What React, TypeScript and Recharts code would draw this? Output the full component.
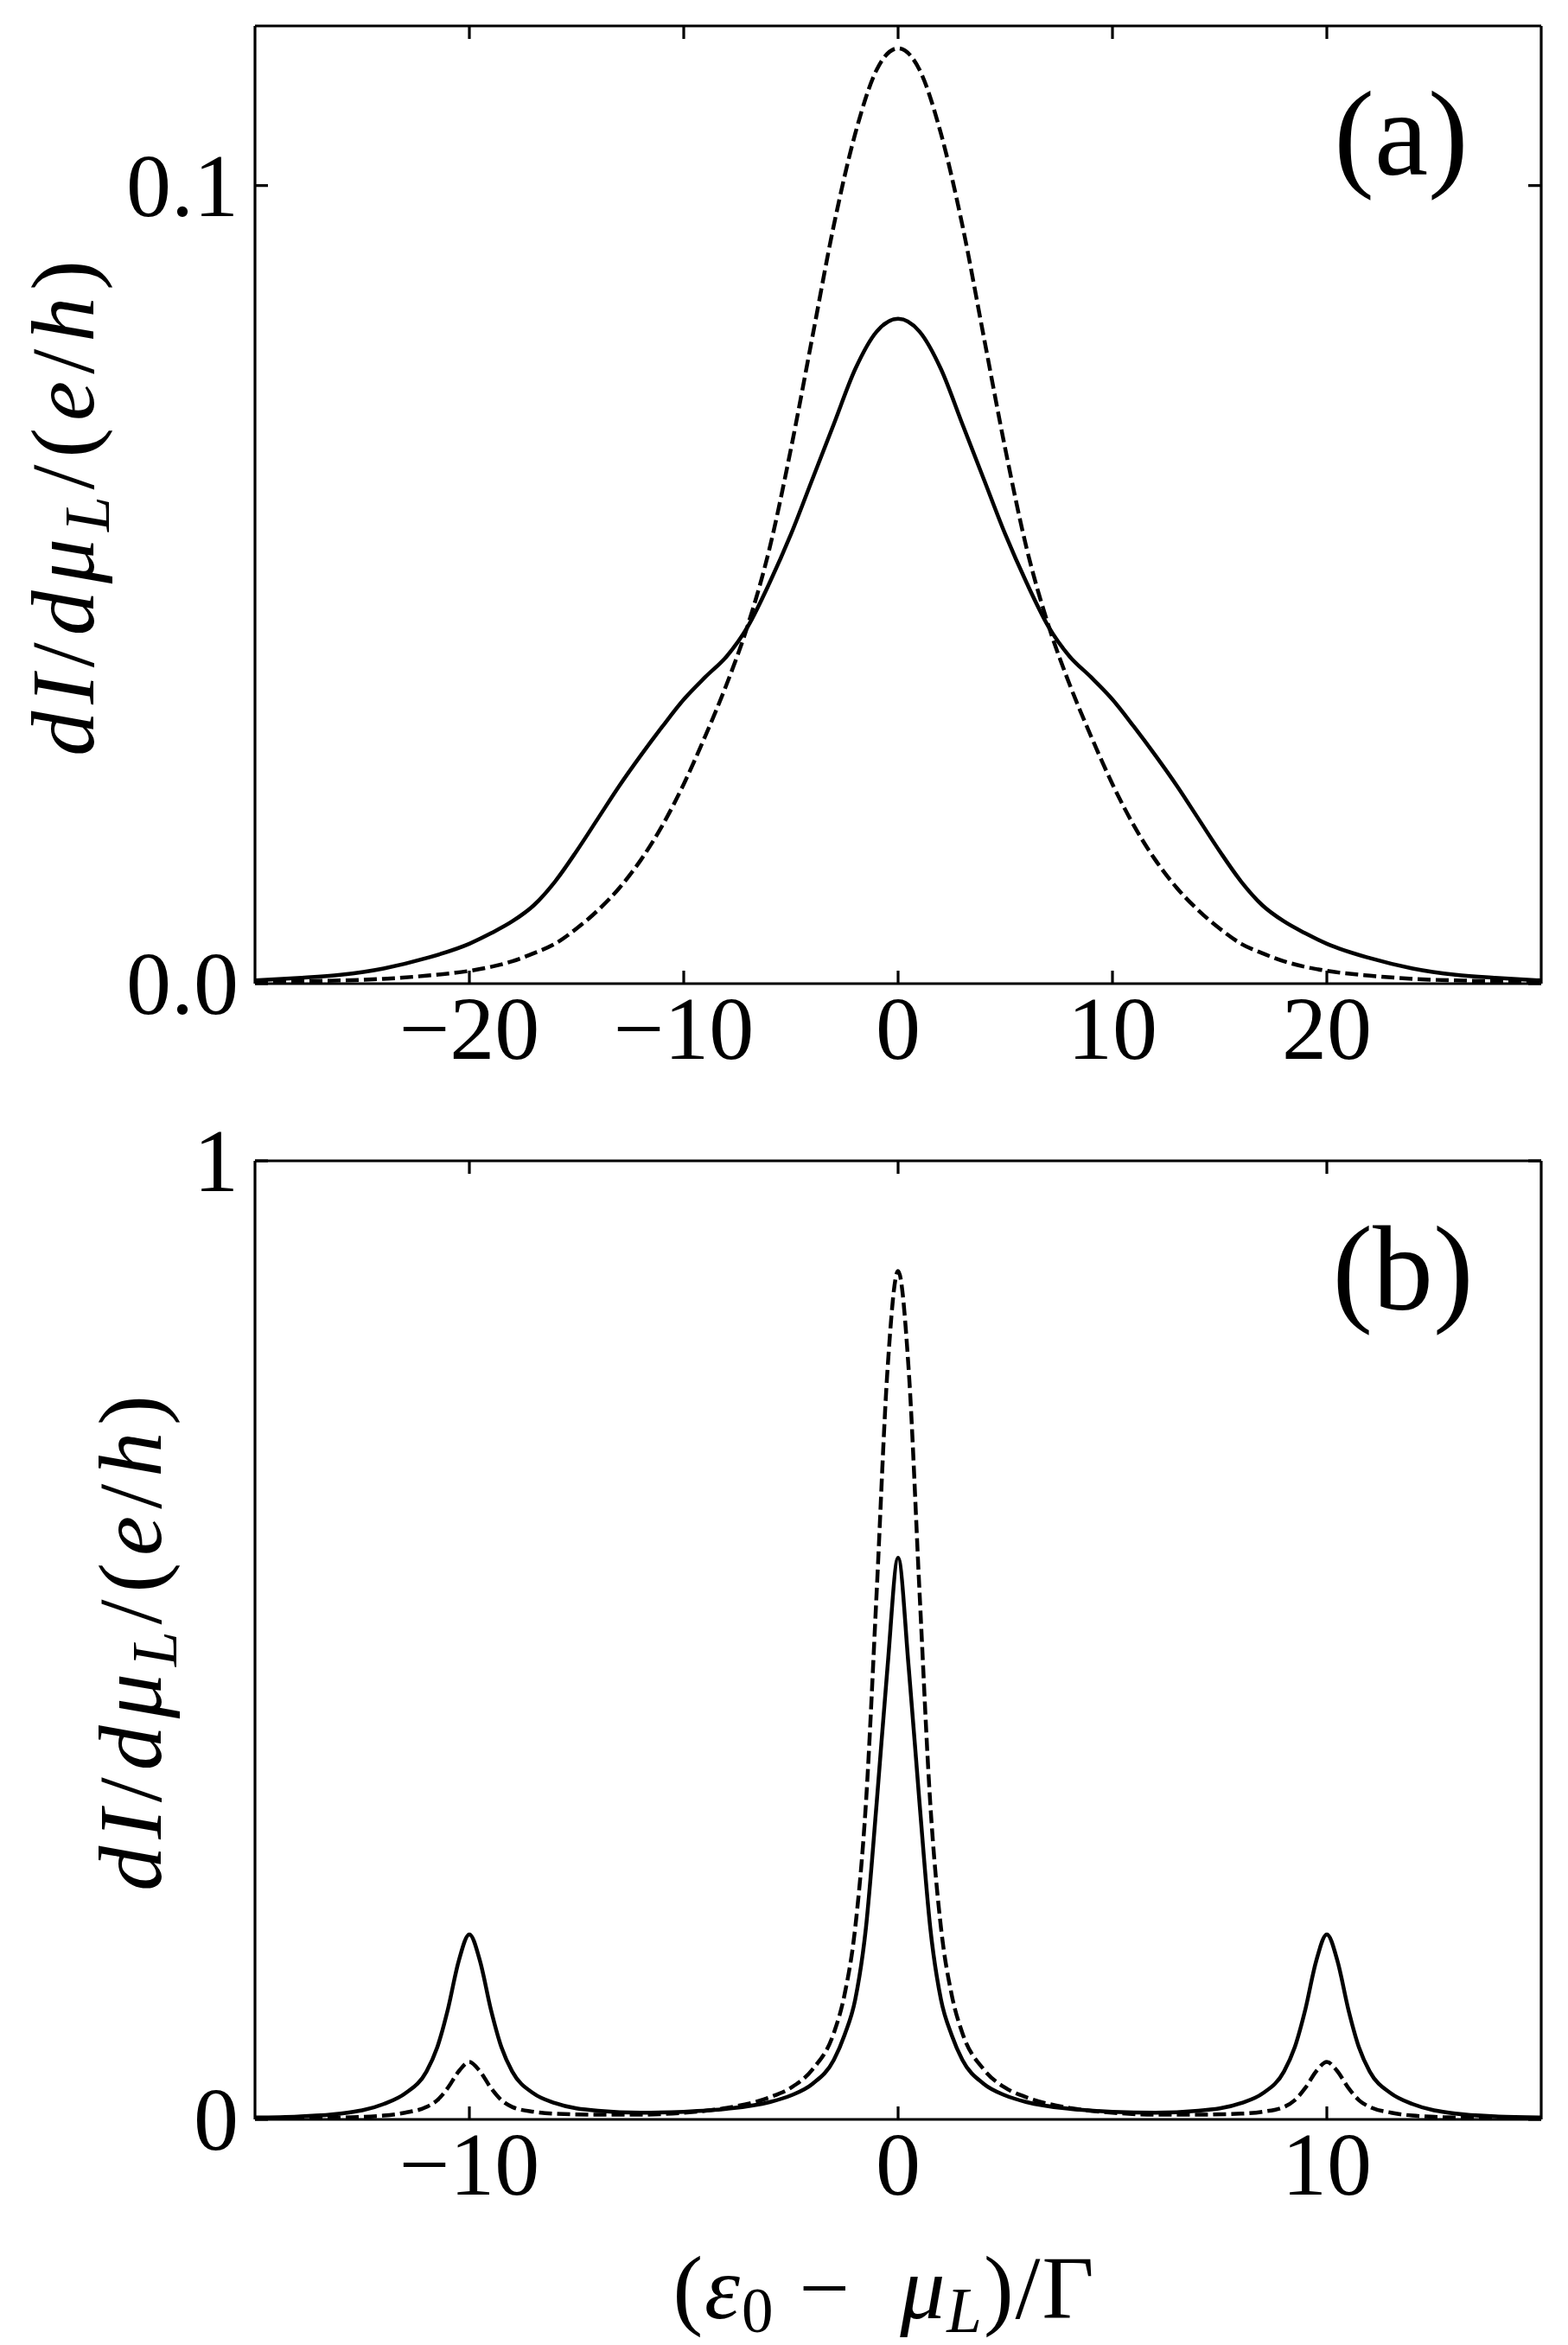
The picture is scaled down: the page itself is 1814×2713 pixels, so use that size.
import React from 'react'
import { LineChart, Line, XAxis, YAxis } from 'recharts'

// panel (a): x = (eps0 - muL)/Gamma
const aX = [
  -30, -28, -26, -24, -22, -20, -19, -18, -17, -16, -15, -14, -13, -12, -11, -10, -9, -8, -7, -6, -5, -4, -3, -2,
  -1, 0, 1, 2, 3, 4, 5, 6, 7, 8, 9, 10, 11, 12, 13, 14, 15, 16, 17, 18, 19, 20, 22, 24, 26, 28, 30,
]
const aSolid = [
  0.0004, 0.0007, 0.0011, 0.0019, 0.0032, 0.005, 0.0063, 0.0078, 0.0098, 0.0128, 0.0166, 0.0207, 0.0248, 0.0286,
  0.0322, 0.0356, 0.0384, 0.041, 0.0448, 0.0502, 0.0563, 0.0632, 0.0701, 0.077, 0.0817, 0.0833,
  0.0817, 0.077, 0.0701, 0.0632, 0.0563, 0.0502, 0.0448, 0.041, 0.0384, 0.0356, 0.0322, 0.0286, 0.0248, 0.0207,
  0.0166, 0.0128, 0.0098, 0.0078, 0.0063, 0.005, 0.0032, 0.0019, 0.0011, 0.0007, 0.0004,
]
const aDashed = [
  0.0002, 0.0003, 0.0004, 0.0006, 0.001, 0.0016, 0.0021, 0.0028, 0.0038, 0.005, 0.0069, 0.0092, 0.012, 0.0155,
  0.0198, 0.025, 0.031, 0.0375, 0.045, 0.0545, 0.067, 0.081, 0.095, 0.1065, 0.1145, 0.1172,
  0.1145, 0.1065, 0.095, 0.081, 0.067, 0.0545, 0.045, 0.0375, 0.031, 0.025, 0.0198, 0.0155, 0.012, 0.0092, 0.0069,
  0.005, 0.0038, 0.0028, 0.0021, 0.0016, 0.001, 0.0006, 0.0004, 0.0003, 0.0002,
]

// panel (b)
const bX = [
  -15, -14, -13, -12, -11.5, -11, -10.75, -10.5, -10.25, -10, -9.75, -9.5, -9.25, -9, -8.5, -8, -7, -6, -5, -4, -3,
  -2.5, -2, -1.5, -1.25, -1, -0.75, -0.5, -0.25, 0,
  0.25, 0.5, 0.75, 1, 1.25, 1.5, 2, 2.5, 3, 4, 5, 6, 7, 8, 8.5, 9, 9.25, 9.5, 9.75, 10, 10.25, 10.5, 10.75, 11,
  11.5, 12, 13, 14, 15,
]
const bSolid = [
  0.002, 0.003, 0.006, 0.016, 0.027, 0.05, 0.075, 0.115, 0.165, 0.193, 0.165, 0.115, 0.075, 0.05, 0.027, 0.017,
  0.009, 0.007, 0.008, 0.011, 0.018, 0.025, 0.037, 0.062, 0.088, 0.125, 0.2, 0.33, 0.47, 0.586,
  0.47, 0.33, 0.2, 0.125, 0.088, 0.062, 0.037, 0.025, 0.018, 0.011, 0.008, 0.007, 0.009, 0.017, 0.027, 0.05,
  0.075, 0.115, 0.165, 0.193, 0.165, 0.115, 0.075, 0.05, 0.027, 0.016, 0.006, 0.003, 0.002,
]
const bDashed = [
  0.001, 0.0015, 0.002, 0.004, 0.007, 0.013, 0.02, 0.033, 0.05, 0.06, 0.05, 0.033, 0.02, 0.013, 0.008, 0.006,
  0.005, 0.005, 0.007, 0.012, 0.023, 0.033, 0.052, 0.09, 0.13, 0.2, 0.33, 0.55, 0.78, 0.885,
  0.78, 0.55, 0.33, 0.2, 0.13, 0.09, 0.052, 0.033, 0.023, 0.012, 0.007, 0.005, 0.005, 0.006, 0.008, 0.013, 0.02,
  0.033, 0.05, 0.06, 0.05, 0.033, 0.02, 0.013, 0.007, 0.004, 0.002, 0.0015, 0.001,
]

const aXTicks = [-20, -10, 0, 10, 20]
const aYTicks = [0, 0.1]
const aYTickLabels = ['0.0', '0.1']
const bXTicks = [-10, 0, 10]
const bYTicks = [0, 1]
const bYTickLabels = ['0', '1']

const FONT = "'Liberation Serif', 'Times New Roman', Times, serif"
const FS = 104
const TICK = 15
const SPINE_W = 3.2

const fmtX = (v: number) => (v < 0 ? '\u2212' + Math.abs(v) : String(v))

const BottomTick = (props: any) => {
  const { x, y, payload } = props
  return (
    <g>
      <line x1={x} x2={x} y1={y} y2={y - TICK} stroke="#000" strokeWidth={SPINE_W} />
      <text x={x} y={y + 87} textAnchor="middle" fontSize={FS} style={{ fontFamily: FONT }} fill="#000">
        {fmtX(payload.value)}
      </text>
    </g>
  )
}

const TopTick = (props: any) => {
  const { x, y } = props
  return <line x1={x} x2={x} y1={y} y2={y + TICK} stroke="#000" strokeWidth={SPINE_W} />
}

const makeLeftTick = (ticks: number[], labels: string[]) => (props: any) => {
  const { x, y, payload } = props
  const label = labels[ticks.indexOf(payload.value)] ?? String(payload.value)
  return (
    <g>
      <line x1={x} x2={x + TICK} y1={y} y2={y} stroke="#000" strokeWidth={SPINE_W} />
      <text x={x - 19} y={y + 35} textAnchor="end" fontSize={FS} style={{ fontFamily: FONT }} fill="#000">
        {label}
      </text>
    </g>
  )
}

const RightTick = (props: any) => {
  const { x, y } = props
  return <line x1={x} x2={x - TICK} y1={y} y2={y} stroke="#000" strokeWidth={SPINE_W} />
}

const spine = { stroke: '#000', strokeWidth: SPINE_W }

function Panel({
  rows,
  xDomain,
  yDomain,
  xTicks,
  yTicks,
  yLabels,
  height,
  margin,
}: {
  rows: { x: number; solid: number; dashed: number }[]
  xDomain: [number, number]
  yDomain: [number, number]
  xTicks: number[]
  yTicks: number[]
  yLabels: string[]
  height: number
  margin: { top: number; right: number; bottom: number; left: number }
}) {
  // axes take 20px each, margins are reduced by that so the plot box lands where we want it
  return (
    <LineChart
      width={1814}
      height={height}
      data={rows}
      margin={{
        top: margin.top - 20,
        right: margin.right - 20,
        bottom: margin.bottom - 20,
        left: margin.left - 20,
      }}
    >
      <XAxis
        dataKey="x"
        type="number"
        domain={xDomain}
        ticks={xTicks}
        interval={0}
        allowDataOverflow
        height={20}
        tickSize={0}
        tickMargin={0}
        tickLine={false}
        axisLine={spine}
        tick={BottomTick}
      />
      <XAxis
        xAxisId="top"
        orientation="top"
        dataKey="x"
        type="number"
        domain={xDomain}
        ticks={xTicks}
        interval={0}
        allowDataOverflow
        height={20}
        tickSize={0}
        tickMargin={0}
        tickLine={false}
        axisLine={spine}
        tick={TopTick}
      />
      <YAxis
        type="number"
        domain={yDomain}
        ticks={yTicks}
        interval={0}
        allowDataOverflow
        width={20}
        tickSize={0}
        tickMargin={0}
        tickLine={false}
        axisLine={spine}
        tick={makeLeftTick(yTicks, yLabels)}
      />
      <YAxis
        yAxisId="right"
        orientation="right"
        type="number"
        domain={yDomain}
        ticks={yTicks}
        interval={0}
        allowDataOverflow
        width={20}
        tickSize={0}
        tickMargin={0}
        tickLine={false}
        axisLine={spine}
        tick={RightTick}
      />
      <Line
        type="monotone"
        dataKey="dashed"
        stroke="#000"
        strokeWidth={4.5}
        strokeDasharray="15 6"
        dot={false}
        activeDot={false}
        isAnimationActive={false}
      />
      <Line
        type="monotone"
        dataKey="solid"
        stroke="#000"
        strokeWidth={4.5}
        dot={false}
        activeDot={false}
        isAnimationActive={false}
      />
    </LineChart>
  )
}

export default function App() {
  const rowsA = aX.map((x, i) => ({ x, solid: aSolid[i], dashed: aDashed[i] }))
  const rowsB = bX.map((x, i) => ({ x, solid: bSolid[i], dashed: bDashed[i] }))
  const sub = { fontSize: 73 }

  return (
    <div
      style={{
        position: 'absolute',
        left: 0,
        top: 0,
        width: 1814,
        height: 2713,
        background: '#fff',
        fontFamily: FONT,
        overflow: 'hidden',
      }}
    >
      <div style={{ position: 'absolute', left: 0, top: 0 }}>
        <Panel
          rows={rowsA}
          xDomain={[-30, 30]}
          yDomain={[0, 0.12]}
          xTicks={aXTicks}
          yTicks={aYTicks}
          yLabels={aYTickLabels}
          height={1300}
          margin={{ top: 30, right: 31, bottom: 162, left: 295 }}
        />
      </div>
      <div style={{ position: 'absolute', left: 0, top: 1240 }}>
        <Panel
          rows={rowsB}
          xDomain={[-15, 15]}
          yDomain={[0, 1]}
          xTicks={bXTicks}
          yTicks={bYTicks}
          yLabels={bYTickLabels}
          height={1473}
          margin={{ top: 103, right: 31, bottom: 261, left: 295 }}
        />
      </div>
      <svg
        width={1814}
        height={2713}
        style={{ position: 'absolute', left: 0, top: 0, pointerEvents: 'none', fontFamily: FONT }}
        fill="#000"
      >
        <text x={1621} y={202} textAnchor="middle" fontSize={140}>(a)</text>
        <text x={1623} y={1515} textAnchor="middle" fontSize={140}>(b)</text>
        {[
          { x: 108, y: 584 },
          { x: 186, y: 1897 },
        ].map((p, i) => (
          <text
            key={i}
            transform={`translate(${p.x}, ${p.y}) rotate(-90)`}
            textAnchor="middle"
            fontSize={FS}
            letterSpacing={8}
          >
            <tspan fontStyle="italic">dI</tspan>
            <tspan>/</tspan>
            <tspan fontStyle="italic">dμ</tspan>
            <tspan fontStyle="italic" style={sub} dy={18}>L</tspan>
            <tspan dy={-18}>/(</tspan>
            <tspan fontStyle="italic">e</tspan>
            <tspan>/</tspan>
            <tspan fontStyle="italic">h</tspan>
            <tspan>)</tspan>
          </text>
        ))}
        <text x={1023} y={2682} textAnchor="middle" fontSize={FS} letterSpacing={2}>
          <tspan>(</tspan>
          <tspan fontStyle="italic">ε</tspan>
          <tspan style={sub} dy={16}>0</tspan>
          <tspan dy={-16}>{'\u00a0\u2212\u00a0\u00a0'}</tspan>
          <tspan fontStyle="italic">μ</tspan>
          <tspan fontStyle="italic" style={sub} dy={16}>L</tspan>
          <tspan dy={-16}>)/Γ</tspan>
        </text>
      </svg>
    </div>
  )
}
